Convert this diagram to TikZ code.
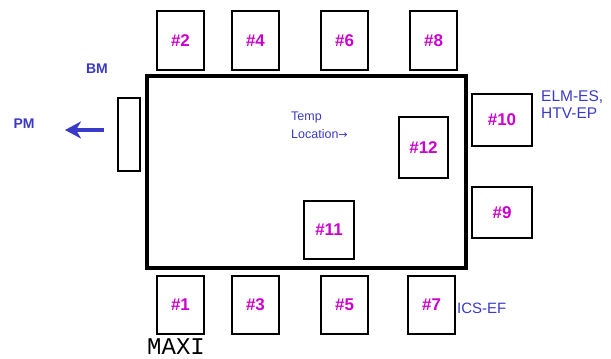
\documentclass[tikz,border=0pt]{standalone}
\usepackage{fontspec}
\setmainfont{Liberation Sans}
\setmonofont{Liberation Mono}
\newfontfamily\arrfont{DejaVu Sans}
\usetikzlibrary{arrows.meta}
\definecolor{mag}{RGB}{204,0,204}
\definecolor{lblue}{RGB}{58,58,200}
\tikzset{
  cell/.style={draw, line width=1.6pt, inner sep=0pt, text=mag,
    font=\fontsize{17}{19}\selectfont\bfseries},
  lbl/.style={text=lblue, inner sep=0pt, font=\fontsize{15}{17}\selectfont, align=left},
}
\begin{document}
\begin{tikzpicture}[x=1pt,y=-1pt]
\useasboundingbox (0,0) rectangle (611,359);
% main rectangle
\node[draw, line width=3.8pt, minimum width=319pt, minimum height=192pt, inner sep=0pt] (main) at (306.5,172) {};
% top boxes
\node[cell, minimum width=47pt, minimum height=59pt] (b2) at (180.5,40.5) {\#2};
\node[cell, minimum width=47pt, minimum height=59pt] (b4) at (255.5,40.5) {\#4};
\node[cell, minimum width=47pt, minimum height=59pt] (b6) at (344.5,40.5) {\#6};
\node[cell, minimum width=47pt, minimum height=59pt] (b8) at (433.5,40.5) {\#8};
% bottom boxes
\node[cell, minimum width=47pt, minimum height=58pt] (b1) at (180.5,305) {\#1};
\node[cell, minimum width=47pt, minimum height=58pt] (b3) at (255.5,305) {\#3};
\node[cell, minimum width=47pt, minimum height=58pt] (b5) at (344.5,305) {\#5};
\node[cell, minimum width=47pt, minimum height=58pt] (b7) at (431.5,305) {\#7};
% right boxes
\node[cell, minimum width=60pt, minimum height=52pt] (b10) at (502,120) {\#10};
\node[cell, minimum width=60pt, minimum height=51pt] (b9) at (502,212.5) {\#9};
% inner boxes
\node[cell, minimum width=49pt, minimum height=61pt] (b12) at (423.5,147.5) {\#12};
\node[cell, minimum width=50pt, minimum height=58pt] (b11) at (329,230) {\#11};
% BM box
\node[draw, line width=1.6pt, minimum width=22pt, minimum height=73pt, inner sep=0pt] (bm) at (129,134.5) {};
% labels
\node[lbl, font=\fontsize{14}{16}\selectfont\bfseries] (bmlbl) at (97,69) {BM};
\node[lbl, font=\fontsize{14}{16}\selectfont\bfseries] (pmlbl) at (24,124) {PM};
\node[lbl, anchor=north west, font=\fontsize{15.5}{17}\selectfont] (elm) at (541,90) {ELM-ES,\\HTV-EP};
\node[lbl, anchor=west] (ics) at (457,308) {ICS-EF};
\node[lbl, anchor=north west, font=\fontsize{12.5}{18}\selectfont] (temp) at (291,112) {Temp\\Location{\arrfont\fontsize{11}{18}\selectfont →}};
\node[anchor=south west, inner sep=0pt, font=\fontsize{24}{26}\selectfont\ttfamily] (maxi) at (147,355) {MAXI};
% arrow
\coordinate (as) at (104,130);
\coordinate (ae) at (65,130);
\draw[lblue, line width=4.5pt, -{Stealth[length=16pt,width=17pt,inset=5pt]}] (as) -- (ae);
\end{tikzpicture}
\end{document}
